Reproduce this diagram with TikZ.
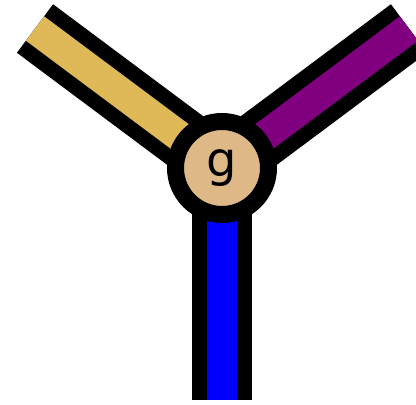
\documentclass[tikz,border=0pt]{standalone}
\usepackage{fontspec}
\setsansfont{DejaVu Sans}
\usetikzlibrary{positioning,backgrounds}
\definecolor{legyellow}{RGB}{223,185,88}
\definecolor{legpurple}{RGB}{128,0,128}
\definecolor{legblue}{RGB}{0,0,255}
\definecolor{nodetan}{RGB}{222,184,135}

\begin{document}
\begin{tikzpicture}[x=1pt,y=-1pt,
    legout/.style={line width=60.5pt,black},
    legin/.style={line width=30.5pt},
    vertex/.style={circle,draw=black,line width=17pt,fill=nodetan,
      minimum size=93pt,inner sep=0pt,font=\sffamily\fontsize{48}{48}\selectfont}]
  \useasboundingbox (0,0) rectangle (416,405);
  \node[vertex] (g) at (222,168) {g};
  % free ends of the three legs
  \coordinate (yend) at (35,28.5);
  \coordinate (pend) at (409,28.5);
  \coordinate (bend) at (222,400);
  \begin{scope}[on background layer]
    \foreach \e/\c in {yend/legyellow,pend/legpurple,bend/legblue}{
      \draw[legout] (g.center) -- (\e);
      \draw[legin,\c] (g.center) -- (\e);}
  \end{scope}
\end{tikzpicture}
\end{document}
